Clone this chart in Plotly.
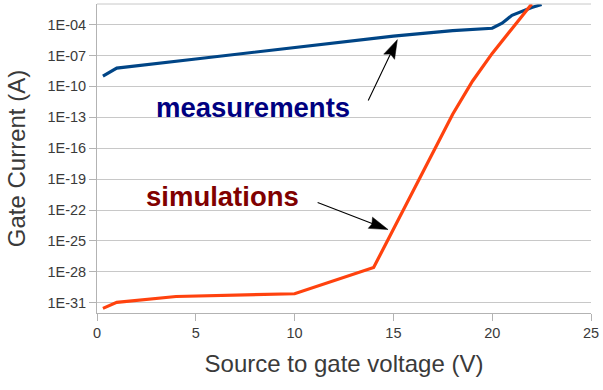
import plotly.graph_objects as go

# Measurements (blue)
meas_v = [0.3, 1, 5, 10, 15, 18, 20, 20.5, 21, 22, 22.5]
meas_i = [1.0e-9, 6.0e-9, 4.6e-8, 5.8e-7, 7.6e-6, 2.6e-5, 4.4e-5, 1.35e-4, 7.9e-4, 4.5e-3, 8.9e-3]

# Simulations (red)
sim_v = [0.3, 1, 4, 10, 14, 18, 19, 20, 21, 22]
sim_i = [2.8e-32, 1.07e-31, 4.0e-31, 7.4e-31, 2.6e-28, 2.0e-13, 3.2e-10, 1.6e-7, 4.0e-5, 1.0e-2]

y_ticks_exp = list(range(-31, -3, 3))
y_tick_text = ["1E-%02d" % (-e) for e in y_ticks_exp]
x_ticks = [0, 5, 10, 15, 20, 25]

FONT = "Liberation Sans"
GRID = "#c8c8c8"
AXIS = "#b3b3b3"
TXT = "#3a3a3a"

W, H = 603, 390
ML, MR, MT, MB = 96.7, 10.3, 3.7, 77.3
XR = [0, 25]
YR = [-32, -2]
px_per_x = (W - ML - MR) / (XR[1] - XR[0])
px_per_dec = (H - MT - MB) / (YR[1] - YR[0])

fig = go.Figure()
fig.add_trace(go.Scatter(x=meas_v, y=meas_i, mode="lines",
                         line=dict(color="#004586", width=3.2), showlegend=False,
                         hoverinfo="skip"))
fig.add_trace(go.Scatter(x=sim_v, y=sim_i, mode="lines",
                         line=dict(color="#ff420e", width=3.2), showlegend=False,
                         hoverinfo="skip"))

# arrows: (tail_x, tail_logy, tip_x, tip_logy, head outline in screen pixels relative to tip, y down)
arrows = [
    (13.69, -11.51, 15.2, -5.46, [(0, 0), (-2.8, 19.7), (-6.9, 14.4), (-13.7, 14.5)]),
    (11.09, -21.22, 14.73, -23.9, [(0, 0), (-19.9, -1.2), (-16.2, -5.5), (-15.6, -12.4)]),
]
for tx, ty, hx, hy, head in arrows:
    fig.add_annotation(x=hx, y=hy, ax=tx, ay=ty, axref="x", ayref="y", text="",
                       showarrow=True, arrowhead=0, arrowwidth=1.1, arrowcolor="black",
                       standoff=6)
    hxs = [hx + dx / px_per_x for dx, dy in head] + [hx]
    hys = [10 ** (hy - dy / px_per_dec) for dx, dy in head] + [10 ** hy]
    fig.add_trace(go.Scatter(x=hxs, y=hys, mode="lines", fill="toself",
                             fillcolor="black", line=dict(color="black", width=0.5),
                             showlegend=False, hoverinfo="skip"))

fig.update_layout(
    width=W, height=H,
    margin=dict(l=ML, r=MR, t=MT, b=MB),
    paper_bgcolor="white", plot_bgcolor="white",
    font=dict(family=FONT, color=TXT),
    xaxis=dict(range=XR, tickvals=x_ticks, showgrid=False, zeroline=False,
               showline=True, linecolor=AXIS, linewidth=1,
               ticks="outside", ticklen=7, tickcolor=AXIS,
               tickfont=dict(size=14.5, color=TXT),
               title=dict(text="Source to gate voltage (V)", font=dict(size=24, color=TXT), standoff=14)),
    yaxis=dict(type="log", range=YR,
               tickvals=[10.0 ** e for e in y_ticks_exp], ticktext=y_tick_text,
               showgrid=True, gridcolor=GRID, gridwidth=1, zeroline=False,
               showline=True, linecolor=AXIS, linewidth=1,
               ticks="outside", ticklen=7, tickcolor=AXIS,
               tickfont=dict(size=14.5, color=TXT),
               title=dict(text="Gate Current (A)", font=dict(size=24, color=TXT), standoff=14)),
)

# top frame line
fig.add_shape(type="line", xref="paper", yref="paper", x0=0, x1=1, y0=1, y1=1,
              line=dict(color=GRID, width=1))

# labels
fig.add_annotation(x=7.87, y=-12.03, text="<b>measurements</b>", showarrow=False,
                   font=dict(size=27.5, color="#000080", family=FONT))
fig.add_annotation(x=6.34, y=-20.67, text="<b>simulations</b>", showarrow=False,
                   font=dict(size=27.5, color="#800000", family=FONT))

fig.write_html("out.html")
